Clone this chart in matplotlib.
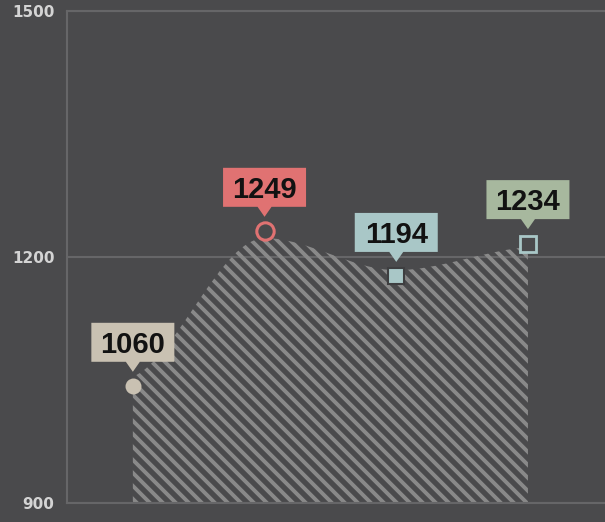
import numpy as np
import matplotlib
matplotlib.use("Agg")
import matplotlib.pyplot as plt
from matplotlib.path import Path
from matplotlib.patches import PathPatch, Polygon
from matplotlib.collections import LineCollection
from matplotlib.transforms import Affine2D, ScaledTranslation, IdentityTransform

# data
positions = [0, 1, 2, 3]
values = [1060, 1249, 1194, 1234]
area_values = [1054, 1223, 1184, 1212]
colors = ["#c9c1b2", "#e07272", "#a9c7c7", "#a7b89e"]
y_ticks = [900, 1200, 1500]

BG = "#4a4a4c"
GRID = "#666668"
STRIPE = "#898989"


def monotone_path(xs, ys, base, end_k=0.4):
    """ closed area path through the points, flat at local extremes """
    xs = np.asarray(xs, float)
    ys = np.asarray(ys, float)
    h = np.diff(xs)
    s = np.diff(ys) / h
    m = np.zeros_like(ys)
    for i in range(1, len(ys) - 1):
        if np.sign(s[i - 1]) == np.sign(s[i]) and s[i] != 0:
            p = (s[i - 1] * h[i] + s[i] * h[i - 1]) / (h[i - 1] + h[i])
            m[i] = np.sign(s[i]) * 2 * min(abs(s[i - 1]), abs(s[i]), 0.5 * abs(p))
    # softer end tangents keep the first rise close to straight
    m[0] = end_k * s[0]
    m[-1] = end_k * s[-1]

    verts = [(xs[0], base), (xs[0], ys[0])]
    codes = [Path.MOVETO, Path.LINETO]
    for i in range(len(xs) - 1):
        d = h[i] / 3
        verts += [(xs[i] + d, ys[i] + m[i] * d),
                  (xs[i + 1] - d, ys[i + 1] - m[i + 1] * d),
                  (xs[i + 1], ys[i + 1])]
        codes += [Path.CURVE4] * 3
    verts += [(xs[-1], base), (xs[0], base)]
    codes += [Path.LINETO, Path.CLOSEPOLY]
    return Path(verts, codes)


fig = plt.figure(figsize=(6.05, 5.22), dpi=100, facecolor=BG)
ax = fig.add_axes([67 / 605, 19 / 522, 538 / 605, 492 / 522])
ax.set_facecolor(BG)
ax.set_xlim(-0.5, 3.585)
ax.set_ylim(900, 1500)

for side in ["left", "bottom", "top"]:
    ax.spines[side].set_color(GRID)
    ax.spines[side].set_linewidth(1.5)
ax.spines["right"].set_visible(False)

ax.set_xticks([])
ax.set_yticks(y_ticks)
ax.yaxis.grid(True, color=GRID, linewidth=1.5)
ax.set_axisbelow(True)
ax.tick_params(axis="y", length=0, pad=9, labelcolor="#d4d4d4", labelsize=11)
for lab in ax.get_yticklabels():
    lab.set_fontweight("semibold")

# hatched area
area = PathPatch(monotone_path(positions, area_values, 900),
                 facecolor="none", edgecolor="none")
ax.add_patch(area)
W, H = fig.get_size_inches() * fig.dpi
segs = [[(c, H), (c + H, 0)] for c in np.arange(-H, W + 13, 13)]
stripes = LineCollection(segs, colors=STRIPE, linewidths=2.8,
                         transform=IdentityTransform(), zorder=2)
ax.add_collection(stripes, autolim=False)
stripes.set_clip_path(area)

# markers sit a little below the value the callout points at
mk_trans = ax.transData + ScaledTranslation(0, -14.5 / 100, fig.dpi_scale_trans)
styles = [
    dict(marker="o", ms=11.5, mfc=colors[0], mec=colors[0], mew=0),
    dict(marker="o", ms=12.5, mfc=BG, mec=colors[1], mew=2.2),
    dict(marker="s", ms=11.5, mfc=colors[2], mec="#3e3e40", mew=1.5),
    dict(marker="s", ms=12, mfc=BG, mec=colors[2], mew=2),
]
for x, v, st in zip(positions, values, styles):
    ax.plot([x], [v], linestyle="none", transform=mk_trans, zorder=3,
            clip_on=False, **st)

# callout boxes (pixel shape, anchored at the value)
box = [(-41.5, 10), (-7, 10), (0, 0), (7, 10), (41.5, 10), (41.5, 49), (-41.5, 49)]
for x, v, c in zip(positions, values, colors):
    anchor = Affine2D() + ScaledTranslation(x, v, ax.transData)
    ax.add_patch(Polygon(box, closed=True, transform=anchor, facecolor=c,
                         edgecolor="none", zorder=4, clip_on=False))
    ax.annotate(str(v), xy=(x, v), xytext=(0, 19 * 0.72), textcoords="offset points",
                ha="center", va="baseline", fontsize=21, fontweight="bold",
                family="Liberation Sans", color="#121212", zorder=5,
                annotation_clip=False)

fig.savefig("out.png", dpi=100, facecolor=BG)
